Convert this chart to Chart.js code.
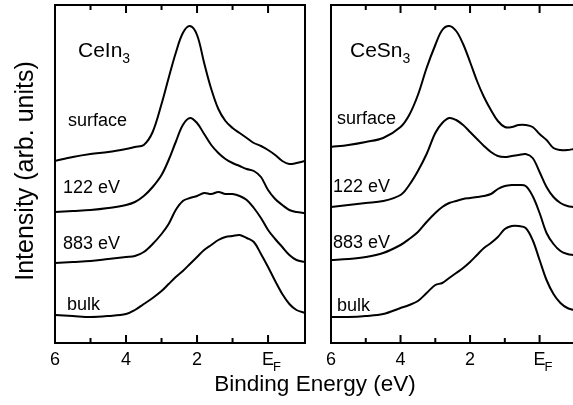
<!DOCTYPE html>
<html><head><meta charset="utf-8">
<script src="https://cdn.jsdelivr.net/npm/chart.js@4.4.1/dist/chart.umd.min.js"></script>
<style>
html,body{margin:0;padding:0;background:#fff;overflow:hidden;width:573px;height:405px;}
#wrap{position:relative;width:573px;height:405px;overflow:hidden;font-family:"Liberation Sans",Arial,Helvetica,sans-serif;color:#000;}
.cv{position:absolute;top:0;}
.lbl{position:absolute;font-size:18px;line-height:1;white-space:nowrap;}
.big{position:absolute;font-size:21px;line-height:1;white-space:nowrap;}
.big sub{font-size:14px;vertical-align:-6px;line-height:0;}
.title{position:absolute;font-size:22.5px;line-height:1;white-space:nowrap;transform:translate(-50%,-50%);}
.ytitle{position:absolute;font-size:25px;line-height:1;white-space:nowrap;transform:translate(-50%,-50%) rotate(-90deg);}
</style></head>
<body>
<div id="wrap">
  <canvas id="c1" class="cv" width="310" height="405" style="left:0;width:310px;height:405px"></canvas>
  <canvas id="c2" class="cv" width="254" height="405" style="left:320px;width:254px;height:405px"></canvas>

  <div class="big" style="left:78px;top:39px">CeIn<sub>3</sub></div>
  <div class="lbl" style="left:68px;top:111px">surface</div>
  <div class="lbl" style="left:63px;top:178px">122 eV</div>
  <div class="lbl" style="left:63px;top:234px">883 eV</div>
  <div class="lbl" style="left:67px;top:295px">bulk</div>

  <div class="big" style="left:350px;top:39px">CeSn<sub>3</sub></div>
  <div class="lbl" style="left:337px;top:109px">surface</div>
  <div class="lbl" style="left:333px;top:177px">122 eV</div>
  <div class="lbl" style="left:333px;top:233px">883 eV</div>
  <div class="lbl" style="left:337px;top:296px">bulk</div>

  <div class="title" style="left:315px;top:384px">Binding Energy (eV)</div>
  <div class="ytitle" style="left:24px;top:171px">Intensity (arb. units)</div>
</div>
<script>
// Binding energy grids (eV)
const energyCeIn3 = [6.0,5.5,5.0,4.5,4.0,3.75,3.5,3.25,3.0,2.8,2.6,2.4,2.2,2.0,1.8,1.6,1.4,1.2,1.0,0.8,0.6,0.4,0.2,0.0,-0.2,-0.4,-0.6,-0.8,-1.04];
const energyCeSn3 = [6.0,5.5,5.0,4.5,4.0,3.75,3.5,3.25,3.0,2.8,2.6,2.4,2.2,2.0,1.8,1.6,1.4,1.2,1.0,0.8,0.6,0.4,0.2,0.0,-0.2,-0.4,-0.6,-0.8,-0.99];

// CeIn3 intensities (arb. units, offset curves)
const ceIn3Surface = [182,186,189,191,194,196,198,211,239,265,290,310,317,308,280,254,234,222,215,210,205,200,197,193,188,182,179,180,182];
const ceIn3_122eV  = [131,132,133,135,138,141,147,156,168,183,201,218,225,220,209,198,190,184,180,177,174,172,166,153,144,138,133,131,130];
const ceIn3_883eV  = [80,81,82,84,86,87,91,99,109,119,133,142,145,147,150,149,151,149,149,147,143,135,125,113,104,96,88,83,81];
const ceIn3Bulk    = [28,27,26,27,29,33,39,45,52,59,66,72,79,86,93,98,103,106,107,108,105,101,89,76,62,49,39,33,30];

// CeSn3 intensities
const ceSn3Surface = [196,198,201,205,216,228,248,275,298,313,317,312,299,281,262,246,233,222,216,216,218,218,216,209,203,195,193,193,194];
const ceSn3_122eV  = [136,138,140,142,148,158,172,189,210,220,225,223,218,211,204,197,191,187,186,187,188,189,185,171,156,146,140,137,136];
const ceSn3_883eV  = [83,84,86,90,98,104,111,121,130,136,140,142,144,145,146,147,149,154,157,158,158,157,147,130,110,99,92,89,88];
const ceSn3Bulk    = [26,26,27,29,35,38,42,50,58,60,65,70,75,81,88,95,100,106,114,117,117,115,103,83,63,49,40,35,33];

// Axis ticks
const tickValues = [6,4,2,0];
const tickLabels = ['6','4','2','E'];
const minorTicks = [5,3,1];

const FONT = '"Liberation Sans", Arial, Helvetica, sans-serif';

function pts(xs, ys){ return xs.map((x,i)=>({x:x, y:ys[i]})); }

const framePlugin = {
  id: 'frame',
  afterDraw(chart){
    const {ctx, chartArea:a} = chart;
    const x = chart.scales.x;
    ctx.save();
    ctx.strokeStyle = '#000';
    ctx.lineWidth = 2;
    ctx.strokeRect(a.left, a.top, a.right - a.left, a.bottom - a.top);
    ctx.beginPath();
    tickValues.forEach(v=>{
      const p = x.getPixelForValue(v);
      ctx.moveTo(p, a.bottom); ctx.lineTo(p, a.bottom - 8);
      ctx.moveTo(p, a.top); ctx.lineTo(p, a.top + 8);
    });
    minorTicks.forEach(v=>{
      const p = x.getPixelForValue(v);
      ctx.moveTo(p, a.bottom); ctx.lineTo(p, a.bottom - 5);
      ctx.moveTo(p, a.top); ctx.lineTo(p, a.top + 5);
    });
    ctx.stroke();
    // subscript F of E_F
    const p0 = x.getPixelForValue(0);
    ctx.fillStyle = '#000';
    ctx.font = '13px ' + FONT;
    ctx.textAlign = 'left';
    ctx.textBaseline = 'alphabetic';
    ctx.fillText('F', p0 + 5, 371);
    ctx.restore();
  }
};

function makeChart(id, energies, series, xmin, pad){
  new Chart(document.getElementById(id), {
    type: 'line',
    data: {
      datasets: series.map(s => ({
        data: pts(energies, s),
        borderColor: '#000',
        borderWidth: 2,
        pointRadius: 0,
        tension: 0.35,
        fill: false
      }))
    },
    options: {
      responsive: false,
      animation: false,
      layout: { padding: pad },
      plugins: { legend: {display:false}, tooltip: {enabled:false}, title:{display:false} },
      scales: {
        x: {
          type: 'linear',
          reverse: true,
          min: xmin,
          max: 6,
          grid: { display: false, drawTicks: false },
          border: { display: false },
          afterBuildTicks: (s) => { s.ticks = tickValues.map(v => ({value: v})); },
          afterFit: (s) => { s.height = 62; },
          ticks: {
            autoSkip: false,
            maxRotation: 0,
            padding: 6,
            color: '#000',
            font: { family: FONT, size: 18 },
            callback: (v) => { const i = tickValues.indexOf(v); return i >= 0 ? tickLabels[i] : ''; }
          }
        },
        y: { display: false, min: 0, max: 338 }
      }
    },
    plugins: [framePlugin]
  });
}

makeChart('c1', energyCeIn3, [ceIn3Surface, ceIn3_122eV, ceIn3_883eV, ceIn3Bulk], -1.04, {left:55, right:5, top:5, bottom:0});
makeChart('c2', energyCeSn3, [ceSn3Surface, ceSn3_122eV, ceSn3_883eV, ceSn3Bulk], -0.99, {left:6, right:0, top:5, bottom:0});
</script>
</body></html>
